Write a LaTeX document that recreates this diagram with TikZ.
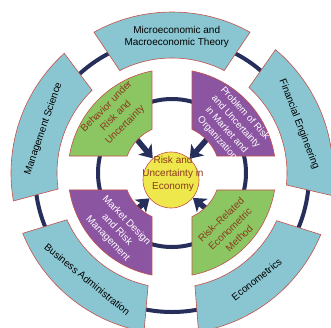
\documentclass[tikz,border=0pt]{standalone}
\usepackage{fontspec}
\setmainfont{Liberation Sans}
\usetikzlibrary{arrows.meta}

\definecolor{bandblue}{HTML}{8AC6D1}
\definecolor{ringnavy}{HTML}{262F5C}
\definecolor{leafgreen}{HTML}{8CC662}
\definecolor{leafpurple}{HTML}{8C55A2}
\definecolor{coreyellow}{HTML}{EEE84C}
\definecolor{edgered}{HTML}{C4504A}
\definecolor{textbrown}{HTML}{8A3A1C}

\tikzset{
  band/.style={fill=bandblue, draw=edgered, line width=0.6pt},
  leaf/.style={draw=edgered, line width=0.6pt},
  ring/.style={draw=ringnavy, line width=4pt},
  pointer/.style={draw=ringnavy, line width=5.5pt,
    -{Stealth[length=12pt, width=17pt, inset=3pt]}},
  core/.style={circle, fill=coreyellow, draw=edgered, line width=0.6pt,
    minimum size=56pt, inner sep=0pt},
  bandtext/.style={font=\fontsize{10}{12.5}\selectfont, align=center, text=black},
  leaftext/.style={font=\fontsize{10}{13}\selectfont, align=center},
}

% one quarter leaf, mirrored by #1
\newcommand\leaf[2]{%
  \draw[leaf, fill=#2, #1] (9.4:104) arc[start angle=9.4, end angle=78.9, radius=104]
    -- (65.4:48) arc[start angle=65.4, end angle=20.7, radius=48] -- cycle;}

\begin{document}
\begin{tikzpicture}[x=1pt, y=1pt]

  \newcommand\Rlo{115}
  \newcommand\Rhi{161}

  \useasboundingbox (-172,-154) rectangle (159,173);
  \clip (-172,-154) rectangle (159,173);

  %% rings
  \draw[ring] (0,-2) circle (137);
  \draw[ring] (0,0) circle (74);

  %% outer bands
  \foreach \c/\a/\r/\nm/\txt in {21/21/-69/fin/Financial Engineering,
      90/88/0/micro/{Microeconomic and\\Macroeconomic Theory},
      161/161/71/mgmt/Management Science,
      231/231.5/-39/bus/Business Administration,
      308.5/308.5/38.5/econ/Econometrics}{
    \draw[band] ({\c-29}:\Rhi) arc[start angle=\c-29, end angle=\c+29, radius=\Rhi]
      -- ({\c+27}:\Rlo) arc[start angle=\c+27, end angle=\c-27, radius=\Rlo] -- cycle;
    \node[bandtext, rotate=\r] (\nm) at (\a:136) {\txt};
  }

  %% centre and pointers
  \node[core] (core) at (-1,-7) {};
  \coordinate (tlTail) at (135:62);
  \coordinate (trTail) at (45:62);
  \coordinate (blTail) at (225:60);
  \coordinate (brTail) at (315:60);
  \foreach \t in {tlTail, trTail, blTail, brTail}
    \draw[pointer] (\t) -- (core);

  %% inner leaves
  \leaf{xscale=-1}{leafgreen}
  \leaf{}{leafpurple}
  \leaf{xscale=-1, yscale=-1}{leafpurple}
  \leaf{yscale=-1}{leafgreen}

  \node[leaftext, text=textbrown, rotate=45] (behav) at (-56,57)
    {Behavior under\\Risk and\\Uncertainty};
  \node[leaftext, text=white, rotate=-48, font=\fontsize{9.6}{12.4}\selectfont]
    (problem) at (59,47)
    {Problem of Risk\\and Uncertainty\\in Market and\\Organization};
  \node[leaftext, text=white, rotate=-46] (market) at (-55,-57)
    {Market Design\\and Risk\\Management};
  \node[leaftext, text=textbrown, rotate=44] (method) at (58,-56)
    {Risk--Related\\Econometric\\Method};

  \node[leaftext, text=textbrown] (coretitle) at (1,-1)
    {Risk and\\Uncertainty in\\Economy};

\end{tikzpicture}
\end{document}
